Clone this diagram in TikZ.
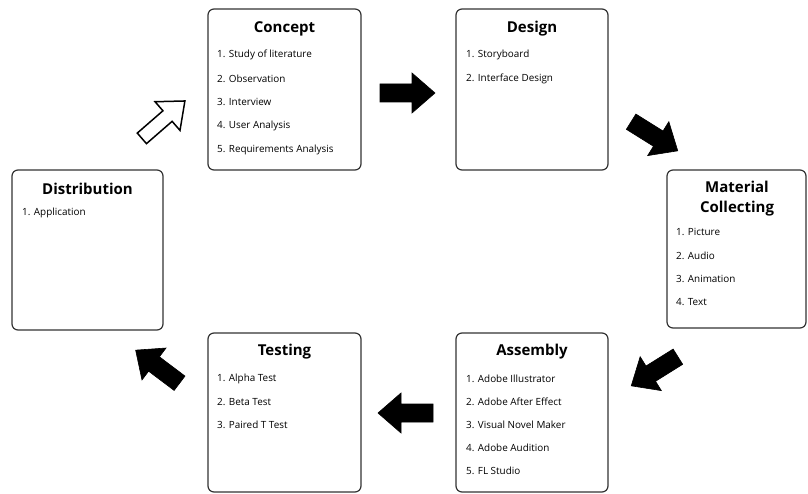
\documentclass[tikz,border=0pt]{standalone}
\usepackage{fontspec}
\setmainfont{Open Sans}
\begin{document}
\begin{tikzpicture}[x=1pt,y=-1pt,
  box/.style={draw=black!80, line width=1.2pt, rounded corners=6pt, fill=white},
  ttl/.style={font=\fontsize{15}{20}\selectfont\bfseries, align=center, inner sep=0pt},
  itm/.style={font=\fontsize{9.9}{11}\selectfont, anchor=west, inner sep=0pt},
  solidarrow/.style={fill=black, draw=black, line width=0.6pt, line join=miter},
  hollowarrow/.style={fill=white, draw=black, line width=1.5pt, line join=miter}]
\useasboundingbox (0,0) rectangle (808,494);
\fill[white] (0,0) rectangle (808,494);
% boxes
\draw[box] (208,9) rectangle (361,170);
\draw[box] (456,9) rectangle (608,170);
\draw[box] (667,170) rectangle (806,328);
\draw[box] (12,170) rectangle (163,330);
\draw[box] (208,333) rectangle (361,492);
\draw[box] (456,333) rectangle (608,492);
% Concept
\node[ttl] (cT) at (284.5,29) {Concept};
\node[itm] (c1) at (217,55) {1. Study of literature};
\node[itm] (c2) at (217,78.5) {2. Observation};
\node[itm] (c3) at (217,102) {3. Interview};
\node[itm] (c4) at (217,126) {4. User Analysis};
\node[itm] (c5) at (217,150) {5. Requirements Analysis};
% Design
\node[ttl] (dT) at (532,29) {Design};
\node[itm] (d1) at (466,55) {1. Storyboard};
\node[itm] (d2) at (466,78.5) {2. Interface Design};
% Material
\node[ttl] (mT) at (737,199) {Material\\Collecting};
\node[itm] (m1) at (676,232) {1. Picture};
\node[itm] (m2) at (676,256) {2. Audio};
\node[itm] (m3) at (676,279) {3. Animation};
\node[itm] (m4) at (676,302) {4. Text};
% Distribution
\node[ttl] (diT) at (87.5,189) {Distribution};
\node[itm] (di1) at (22,213) {1. Application};
% Testing
\node[ttl] (tT) at (284.5,352) {Testing};
\node[itm] (t1) at (217,379) {1. Alpha Test};
\node[itm] (t2) at (217,402) {2. Beta Test};
\node[itm] (t3) at (217,425) {3. Paired T Test};
% Assembly
\node[ttl] (aT) at (532,352) {Assembly};
\node[itm] (a1) at (466,379) {1. Adobe Illustrator};
\node[itm] (a2) at (466,402) {2. Adobe After Effect};
\node[itm] (a3) at (466,425) {3. Visual Novel Maker};
\node[itm] (a4) at (466,448) {4. Adobe Audition};
\node[itm] (a5) at (466,471) {5. FL Studio};
% block arrows
\def\barrow#1#2#3{\draw[solidarrow, shift={(#1,#2)}, rotate=#3]
  (-27,-9) -- (5,-9) -- (5,-20) -- (28,0) -- (5,20) -- (5,9) -- (-27,9) -- cycle;}
\draw[hollowarrow, shift={(163,120)}, rotate=41]
  (-28,-7) -- (6,-7) -- (6,-19) -- (29,0) -- (6,19) -- (6,7) -- (-28,7) -- cycle;
\barrow{407}{93}{0}
\barrow{654}{136}{-32}
\barrow{655}{371}{212}
\barrow{406}{413}{180}
\barrow{158}{367}{143}
\end{tikzpicture}
\end{document}
